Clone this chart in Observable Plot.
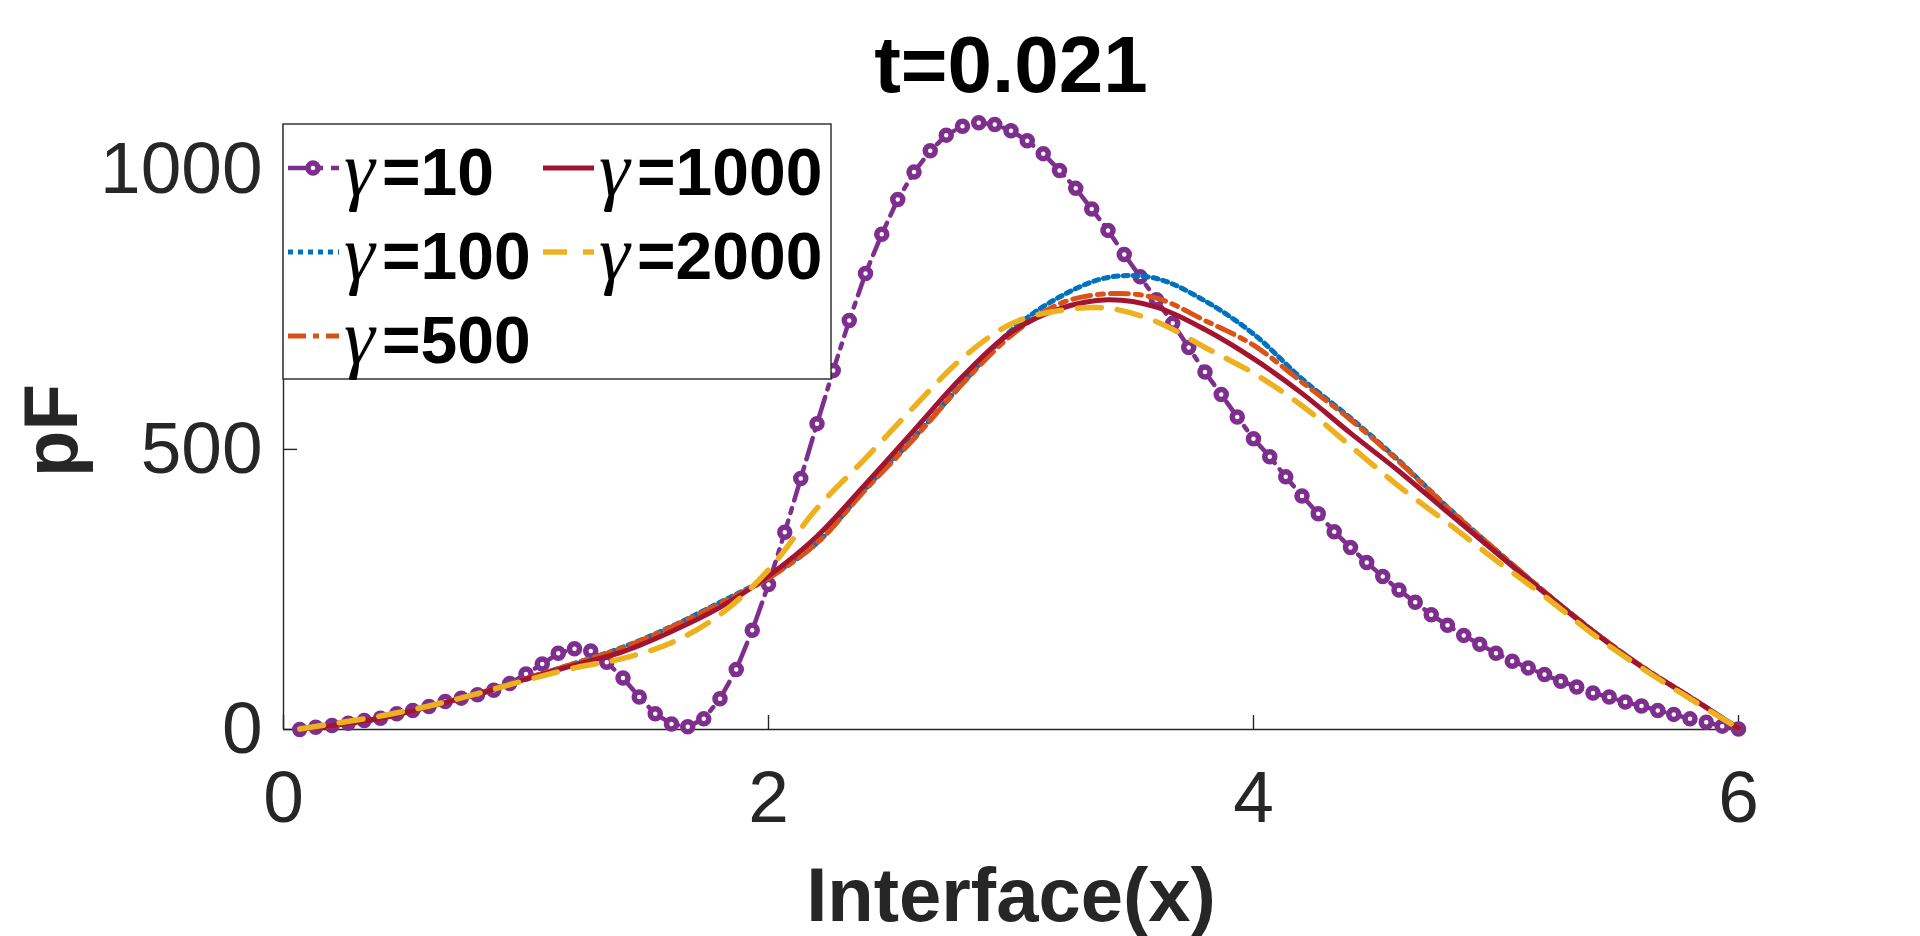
<!DOCTYPE html>
<html><head><meta charset="utf-8">
<script src="https://cdn.jsdelivr.net/npm/d3@7"></script>
<script src="https://cdn.jsdelivr.net/npm/@observablehq/plot@0.6"></script>
<style>html,body{margin:0;padding:0;background:#fff;} svg{display:block}</style>
</head><body><div id="chart"></div>
<script>
// ---- data ----
const xTicks = [0, 2, 4, 6];
const yTicks = [0, 500, 1000];
const gammas = ["10", "100", "500", "1000", "2000"];
const colors = ["#7E2F8E", "#0072BD", "#D95319", "#A2142F", "#EDB120"];

// gamma = 10 (markers on every grid point)
const x10 = [0.067,0.133,0.2,0.267,0.333,0.4,0.467,0.533,0.6,0.667,0.733,0.8,0.867,0.933,1.0,
  1.067,1.133,1.2,1.267,1.333,1.4,1.467,1.533,1.6,1.667,1.733,1.8,1.867,1.933,2.0,
  2.067,2.133,2.2,2.267,2.333,2.4,2.467,2.533,2.6,2.667,2.733,2.8,2.867,2.933,3.0,
  3.067,3.133,3.2,3.267,3.333,3.4,3.467,3.533,3.6,3.667,3.733,3.8,3.867,3.933,4.0,
  4.067,4.133,4.2,4.267,4.333,4.4,4.467,4.533,4.6,4.667,4.733,4.8,4.867,4.933,5.0,
  5.067,5.133,5.2,5.267,5.333,5.4,5.467,5.533,5.6,5.667,5.733,5.8,5.867,5.933,6.0];
const y10 = [0,4,7,11,16,20,28,34,41,50,56,62,70,82,99,
  117,136,144,140,120,92,58,28,10,5,19,55,107,177,259,
  352,448,546,641,730,814,884,946,995,1033,1061,1077,1083,1080,1069,
  1051,1028,998,966,929,891,848,808,767,725,682,638,598,558,519,
  487,451,417,385,353,325,298,273,249,227,205,186,168,152,136,
  122,110,98,86,76,65,58,49,42,34,27,19,13,6,1];

// smooth curves
const xs = [0.067,0.2,0.4,0.6,0.8,1.0,1.2,1.4,1.6,1.8,2.0,2.2,2.4,2.6,2.8,3.0,
  3.2,3.4,3.6,3.8,4.0,4.2,4.4,4.6,4.8,5.0,5.2,5.4,5.6,5.8,6.0];
const y100  = [1,7,20,41,64,91,118,147,184,227,272,333,430,521,618,712,772,807,805,765,706,626,556,480,397,320,246,176,113,58,2];
const y500  = [1,7,20,41,64,91,118,146,183,225,270,333,428,519,617,703,760,778,770,730,686,620,553,478,396,320,246,176,113,58,2];
const y1000 = [1,7,20,41,63,90,115,139,175,218,274,345,438,534,630,709,751,767,754,714,662,600,529,461,388,316,244,175,112,58,2];
const y2000 = [1,10,24,42,64,88,110,127,155,205,285,395,484,576,663,724,748,752,728,682,636,578,506,434,369,302,238,170,110,55,2];

const titleText = "t=0.021";
const xLabel = "Interface(x)";
const yLabel = "pF";

// ---- build tables ----
const d10 = x10.map((x, i) => ({x, y: y10[i]}));
const mk = ys => xs.map((x, i) => ({x, y: ys[i]}));
const series = [mk(y100), mk(y500), mk(y1000), mk(y2000)];
const dashes = ["22,8,5,8", "5,5", "18,7,6,7", null, "24,16"];
const widths = [4.5, 5, 5, 5, 5.5];
const axisColor = "#262626";

const plot = Plot.plot({
  width: 1920, height: 936,
  marginLeft: 283, marginRight: 182, marginTop: 124, marginBottom: 207,
  x: {domain: [0, 6]},
  y: {domain: [0, 1080]},
  style: {fontFamily: "'Liberation Sans', Arial, sans-serif", color: axisColor, background: "white"},
  marks: [
    Plot.ruleY([0], {stroke: axisColor, strokeWidth: 1.4}),
    Plot.ruleX([0], {stroke: axisColor, strokeWidth: 1.4}),
    Plot.tickX(xTicks, {x: d => d, insetTop: 591, stroke: axisColor, strokeWidth: 1.4}),
    Plot.tickY(yTicks, {y: d => d, insetRight: 1441, stroke: axisColor, strokeWidth: 1.4}),
    Plot.line(d10, {x: "x", y: "y", stroke: colors[0], strokeWidth: widths[0], strokeDasharray: dashes[0]}),
    Plot.dot(d10, {x: "x", y: "y", r: 5, stroke: colors[0], strokeWidth: 5.5, fill: "white"}),
    ...series.map((s, k) => Plot.line(s, {x: "x", y: "y", curve: "catmull-rom",
      stroke: colors[k + 1], strokeWidth: widths[k + 1], strokeDasharray: dashes[k + 1]})),
    Plot.axisX({ticks: xTicks, tickSize: 0, tickPadding: 41, fontSize: 73, label: null, tickFormat: d => String(d)}),
    Plot.axisY({ticks: yTicks, tickSize: 0, tickPadding: 21, fontSize: 73, label: null, tickFormat: d => String(d)}),
    Plot.text([titleText], {frameAnchor: "top", lineAnchor: "bottom", dy: -33, fontSize: 80, fontWeight: "bold", fill: "black"}),
    Plot.text([xLabel], {frameAnchor: "bottom", lineAnchor: "bottom", dy: 191, fontSize: 76, fontWeight: "bold", fill: axisColor}),
    Plot.text([yLabel], {frameAnchor: "left", rotate: -90, dx: -231, dy: 50, fontSize: 76, fontWeight: "bold", fill: axisColor})
  ]
});
document.getElementById("chart").appendChild(plot);

// ---- legend (inside top-left of axes) ----
const scX = plot.scale("x"), scY = plot.scale("y");
const legLeft = scX.apply(0), legTop = scY.apply(1080);
const lg = d3.select(plot).append("g").attr("text-anchor", "start");
lg.append("rect").attr("x", legLeft).attr("y", legTop).attr("width", 548).attr("height", 255)
  .attr("fill", "white").attr("stroke", axisColor).attr("stroke-width", 1.4);
gammas.forEach((g, i) => {
  const col = i < 3 ? 0 : 1, row = i < 3 ? i : i - 3;
  const lx = legLeft + (col ? 260 : 5), ly = legTop + 44 + row * 84;
  lg.append("line").attr("x1", lx).attr("x2", lx + 51).attr("y1", ly).attr("y2", ly)
    .attr("stroke", colors[i]).attr("stroke-width", widths[i])
    .attr("stroke-dasharray", dashes[i]);
  if (i === 0) {
    lg.append("circle").attr("cx", lx + 25).attr("cy", ly).attr("r", 5)
      .attr("fill", "white").attr("stroke", colors[0]).attr("stroke-width", 5.5);
  }
  const tx = lx + 56, base = ly + 27;
  const t = lg.append("text").attr("x", tx).attr("y", base).attr("fill", "black")
    .attr("font-size", 66).attr("text-anchor", "start");
  t.append("tspan").attr("font-family", "'Liberation Serif', 'DejaVu Serif', serif")
    .attr("font-style", "italic").attr("font-size", 78).text("γ");
  t.append("tspan").attr("x", tx + 38).attr("font-weight", "bold")
    .attr("font-family", "'Liberation Sans', Arial, sans-serif").text("=" + g);
});
</script>
</body></html>
